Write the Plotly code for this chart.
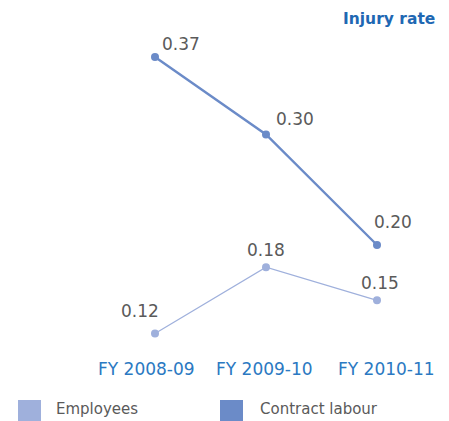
import plotly.graph_objects as go

categories = ["FY 2008-09", "FY 2009-10", "FY 2010-11"]
employees = [0.12, 0.18, 0.15]
contract = [0.37, 0.30, 0.20]
series_names = ["Employees", "Contract labour"]
emp_color = "#9fb0dc"
con_color = "#6b8bc8"
xs = [0, 1, 2]

fig = go.Figure()
fig.add_trace(go.Scatter(x=xs, y=employees, mode="lines+markers", name=series_names[0],
                         line=dict(color=emp_color, width=1.2), marker=dict(size=8, color=emp_color),
                         showlegend=False))
fig.add_trace(go.Scatter(x=xs, y=contract, mode="lines+markers", name=series_names[1],
                         line=dict(color=con_color, width=2.4), marker=dict(size=8, color=con_color),
                         showlegend=False))

label_font = dict(family="DejaVu Sans", size=17, color="#5a5a5a")
con_shift = [(26, 13), (29, 15), (16, 23)]
emp_shift = [(-15, 22), (0, 17), (3, 17)]
for i, v in enumerate(contract):
    fig.add_annotation(x=xs[i], y=v, text=f"{v:.2f}", showarrow=False, font=label_font,
                       xshift=con_shift[i][0], yshift=con_shift[i][1])
for i, v in enumerate(employees):
    fig.add_annotation(x=xs[i], y=v, text=f"{v:.2f}", showarrow=False, font=label_font,
                       xshift=emp_shift[i][0], yshift=emp_shift[i][1])

# category labels (slightly offset from the points, as in the original)
tick_shift = [-9, -2, 9]
for i, c in enumerate(categories):
    fig.add_annotation(x=xs[i], xref="x", yref="paper", y=-0.046, yanchor="middle",
                       text=c, showarrow=False, xshift=tick_shift[i],
                       font=dict(family="DejaVu Sans", size=17, color="#2b79c2"))

fig.add_annotation(xref="paper", yref="paper", x=1.015, y=1.1016, xanchor="right", yanchor="top",
                   text="<b>Injury rate</b>", showarrow=False,
                   font=dict(family="DejaVu Sans", size=15.5, color="#1f68b3"))

# legend (hand drawn, larger squares than plotly's legend allows)
legend_items = [
    (series_names[0], emp_color, -0.24699, -0.17771, -0.138554),
    (series_names[1], con_color, 0.361446, 0.430723, 0.475904),
]
for name, col, sx0, sx1, tx in legend_items:
    fig.add_shape(type="rect", xref="paper", yref="paper", x0=sx0, x1=sx1,
                  y0=-0.2095, y1=-0.1429, fillcolor=col, line=dict(width=0))
    fig.add_annotation(xref="paper", yref="paper", x=tx, y=-0.1714, xanchor="left",
                       yanchor="middle", text=name, showarrow=False,
                       font=dict(family="DejaVu Sans", size=15, color="#5a5a5a"))

fig.update_layout(
    width=441, height=413,
    margin=dict(l=92, r=17, t=32, b=66),
    plot_bgcolor="white", paper_bgcolor="white",
    showlegend=False,
    xaxis=dict(range=[-0.4955, 2.4955], tickvals=xs, showticklabels=False, showgrid=False,
               zeroline=False, showline=False, ticks=""),
    yaxis=dict(range=[0.10054, 0.3854], visible=False),
)
fig.write_html("out.html")
